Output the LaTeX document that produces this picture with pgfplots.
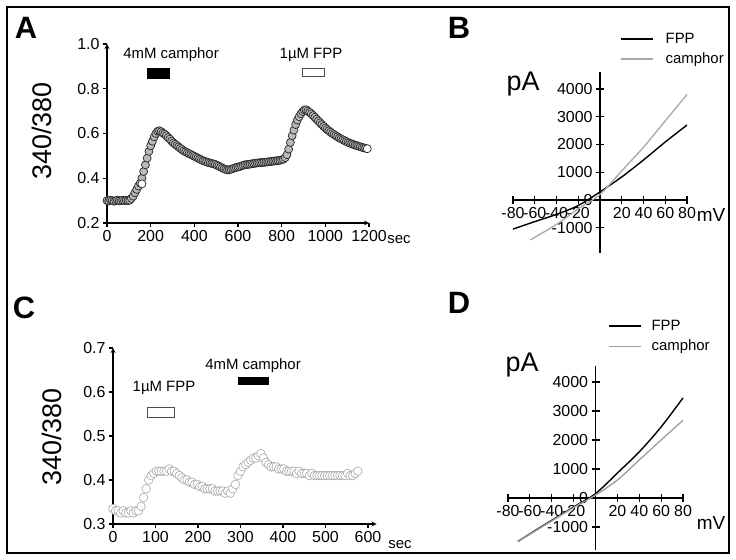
\documentclass[border=0pt]{standalone}
\usepackage{pgfplots}
\pgfplotsset{compat=1.18}
\usepackage{fontspec}
\setmainfont{Liberation Sans}
\definecolor{lg}{gray}{0.66}
\definecolor{cg}{gray}{0.62}
\newcommand{\fs}[1]{\fontsize{#1}{#1}\selectfont}
\begin{document}
\begin{tikzpicture}[x=1bp,y=1bp]
\useasboundingbox (0,0) rectangle (736,560);
\fill[white] (0,0) rectangle (736,560);
\pgfplotsset{
  myaxis/.style={scale only axis, clip=false,
    axis line style={-, line width=1.2bp},
    tick style={line width=1.2bp, black},
    ticklabel style={font=\fs{16}},
    /pgf/number format/assume math mode=true,
    /pgf/number format/1000 sep={},
    scaled ticks=false},
  ivaxis/.style={myaxis, axis lines=middle,
    every inner x axis line/.append style={-},
    every inner y axis line/.append style={-},
    tick align=center, major tick length=8bp,
    hide obscured x ticks=false, hide obscured y ticks=false,
    xtick={-80,-60,-40,-20,20,40,60,80},
    ytick={-1000,0,1000,2000,3000,4000},
    legend image code/.code={\draw[##1] (0bp,0bp) -- (32bp,0bp);},
    legend style={draw=none, fill=none, anchor=north west,
      font=\fs{15}, inner sep=0pt, row sep=4bp, cells={anchor=west},
      /tikz/every odd column/.append style={column sep=0bp}},
  },
}
% ---------- Panel A ----------
\begin{axis}[myaxis, at={(107bp,337bp)}, anchor=south west,
  width=262bp, height=179bp,
  xmin=0, xmax=1200, ymin=0.2, ymax=1.0,
  axis lines=left, tick align=outside, major tick length=4bp,
  xtick={0,200,400,600,800,1000,1200},
  ytick={0.2,0.4,0.6,0.8,1.0},
  yticklabel style={/pgf/number format/.cd, fixed, fixed zerofill, precision=1},
]
\addplot[only marks, mark=*, mark size=4bp,
  mark options={draw=black!85, fill=gray!55, line width=0.7bp}] coordinates {
(0,.300)(8,.298)(16,.302)(24,.300)(32,.297)(40,.300)(48,.302)(56,.299)(64,.300)(72,.302)
(80,.300)(88,.301)(96,.300)(104,.302)(112,.310)(120,.320)(128,.335)(136,.350)(144,.365)(152,.378)
(160,.400)(168,.430)(176,.460)(184,.490)(192,.520)(200,.545)(208,.565)(216,.585)(224,.600)(232,.610)
(240,.612)(248,.608)(256,.602)(264,.597)(272,.590)(280,.582)(288,.575)(296,.566)(304,.558)(312,.552)
(320,.546)(328,.540)(336,.534)(344,.528)(352,.522)(360,.518)(368,.514)(376,.510)(384,.506)(392,.502)
(400,.498)(408,.494)(416,.490)(424,.486)(432,.482)(440,.478)(448,.476)(456,.473)(464,.470)(472,.468)
(480,.466)(488,.464)(496,.462)(504,.458)(512,.454)(520,.450)(528,.446)(536,.442)(544,.439)(552,.437)
(560,.438)(568,.440)(576,.443)(584,.446)(592,.448)(600,.450)(608,.452)(616,.455)(624,.458)(632,.460)
(640,.461)(648,.462)(656,.463)(664,.465)(672,.466)(680,.467)(688,.468)(696,.469)(704,.470)(712,.470)
(720,.471)(728,.472)(736,.473)(744,.474)(752,.475)(760,.476)(768,.477)(776,.478)(784,.479)(792,.480)
(800,.482)(808,.485)(816,.492)(824,.505)(832,.530)(840,.560)(848,.590)(856,.615)(864,.640)(872,.660)
(880,.675)(888,.688)(896,.698)(904,.705)(912,.706)(920,.700)(928,.694)(936,.688)(944,.680)(952,.672)
(960,.664)(968,.656)(976,.648)(984,.640)(992,.632)(1000,.625)(1008,.618)(1016,.612)(1024,.606)(1032,.600)
(1040,.595)(1048,.590)(1056,.585)(1064,.580)(1072,.576)(1080,.572)(1088,.568)(1096,.564)(1104,.560)(1112,.557)
(1120,.554)(1128,.551)(1136,.548)(1144,.546)(1152,.543)(1160,.541)(1168,.538)(1176,.536)(1184,.534)
};
\addplot[only marks, mark=*, mark size=4bp,
  mark options={draw=black!85, fill=white, line width=0.7bp}] coordinates {(160,.375)(1192,.532)};
\fill[black] (axis cs:183,0.844) rectangle (axis cs:289,0.893);
\draw[black!70, fill=white, line width=0.8bp] (axis cs:893,0.857) rectangle (axis cs:994,0.893);
\end{axis}
% ---------- Panel C ----------
\begin{axis}[myaxis, at={(113bp,36bp)}, anchor=south west,
  width=263.5bp, height=176bp,
  xmin=0, xmax=620, ymin=0.3, ymax=0.7,
  axis lines=left, tick align=outside, major tick length=4bp,
  xtick={0,100,200,300,400,500,600},
  ytick={0.3,0.4,0.5,0.6,0.7},
  yticklabel style={/pgf/number format/.cd, fixed, fixed zerofill, precision=1},
]
\addplot[only marks, mark=*, mark size=4.3bp,
  mark options={draw=lg, fill=white, line width=0.6bp}] coordinates {
(0,.335)(6,.330)(12,.330)(18,.325)(24,.330)(30,.325)(36,.325)(42,.330)(48,.325)(54,.330)
(60,.330)(66,.340)(72,.360)(78,.380)(84,.400)(90,.410)(96,.415)(102,.420)(108,.420)(114,.420)
(120,.420)(126,.420)(132,.425)(138,.420)(144,.420)(150,.415)(156,.410)(162,.405)(168,.400)(174,.400)
(180,.395)(186,.395)(192,.390)(198,.390)(204,.385)(210,.385)(216,.380)(222,.380)(228,.380)(234,.380)
(240,.375)(246,.375)(252,.375)(258,.375)(264,.370)(270,.375)(276,.370)(282,.380)(288,.390)(294,.410)
(300,.420)(306,.430)(312,.435)(318,.440)(324,.445)(330,.450)(336,.450)(342,.455)(348,.460)(354,.450)
(360,.440)(366,.435)(372,.430)(378,.430)(384,.430)(390,.425)(396,.425)(402,.425)(408,.420)(414,.420)
(420,.420)(426,.420)(432,.415)(438,.420)(444,.415)(450,.415)(456,.415)(462,.410)(468,.415)(474,.410)
(480,.410)(486,.410)(492,.410)(498,.410)(504,.410)(510,.410)(516,.410)(522,.410)(528,.410)(534,.410)
(540,.410)(546,.410)(552,.415)(558,.410)(564,.410)(570,.415)(576,.420)
};
\draw[black!70, fill=white, line width=0.8bp] (axis cs:82,0.543) rectangle (axis cs:144,0.564);
\fill[black] (axis cs:294,0.616) rectangle (axis cs:367,0.634);
\end{axis}
% ---------- Panel B ----------
\begin{axis}[ivaxis, at={(513bp,307.3bp)}, anchor=south west,
  width=174bp, height=180.4bp,
  xmin=-80, xmax=80, ymin=-1900, ymax=4600,
  legend style={at={(axis description cs:0.615,1.23)}},
]
\addplot[black, line width=1.4bp, smooth] coordinates {
(-80,-1050)(-60,-780)(-40,-520)(-20,-200)(0,290)(20,830)(40,1440)(60,2090)(80,2700)};
\addlegendentry{\hspace{10bp}FPP}
\addplot[lg, line width=1.3bp, smooth] coordinates {
(-64,-1440)(-40,-880)(-20,-320)(0,200)(20,1050)(40,1900)(60,2850)(80,3800)};
\addlegendentry{\hspace{10bp}camphor}
\end{axis}
% ---------- Panel D ----------
\begin{axis}[ivaxis, at={(508bp,9.8bp)}, anchor=south west,
  width=175bp, height=184.2bp,
  xmin=-80, xmax=80, ymin=-1800, ymax=4550,
  legend style={at={(axis description cs:0.571,1.26)}},
]
\addplot[black, line width=1.4bp, smooth] coordinates {
(-71,-1500)(-50,-1000)(-20,-310)(0,150)(20,860)(40,1590)(60,2450)(80,3450)};
\addlegendentry{\hspace{8bp}FPP}
\addplot[cg, line width=1.3bp, smooth] coordinates {
(-71,-1500)(-50,-1020)(-20,-330)(0,100)(20,620)(40,1310)(60,2000)(80,2680)};
\addlegendentry{\hspace{8bp}camphor}
\end{axis}
% ---------- texts ----------
\node[font=\fs{31}\bfseries] at (26,532) {A};
\node[font=\fs{31}\bfseries] at (459,532.5) {B};
\node[font=\fs{31}\bfseries] at (24,252) {C};
\node[font=\fs{31}\bfseries] at (459,257) {D};
\node[font=\fs{27}, rotate=90] at (42,429) {340/380};
\node[font=\fs{27}, rotate=90] at (52,123) {340/380};
\node[font=\fs{15}] at (171,505) {4mM camphor};
\node[font=\fs{15}] at (311,505) {1µM FPP};
\node[font=\fs{15}] at (164,172) {1µM FPP};
\node[font=\fs{15}] at (253,194) {4mM camphor};
\node[font=\fs{15}] at (399,320) {sec};
\node[font=\fs{15}] at (400,15) {sec};
\node[font=\fs{27}] at (523,476) {pA};
\node[font=\fs{27}] at (522,195) {pA};
\node[font=\fs{19}] at (711,345) {mV};
\node[font=\fs{19}] at (711,37) {mV};
\draw[line width=1.5bp] (7,7) rectangle (729,553);
\end{tikzpicture}
\end{document}
